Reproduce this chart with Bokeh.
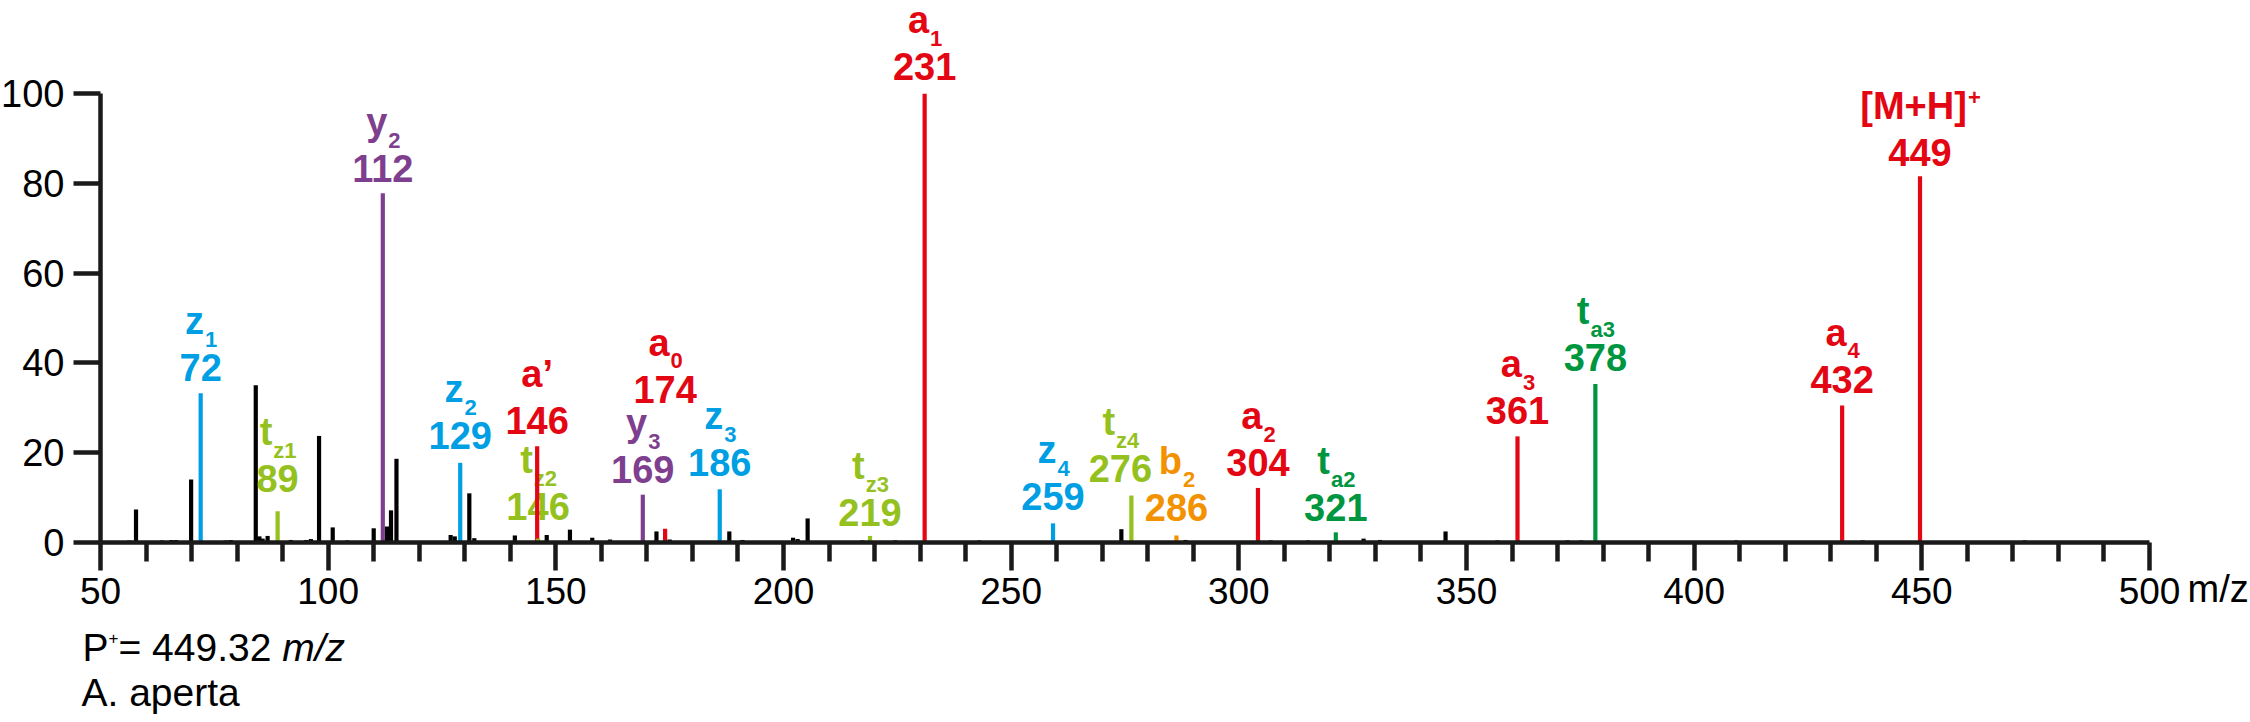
from bokeh.plotting import figure
from bokeh.models import ColumnDataSource, Range1d, FixedTicker, Label
from bokeh.core.properties import value
from bokeh.embed import file_html
from bokeh.resources import INLINE

# ---------------- data ----------------
# unassigned (black) peaks
other_mz = [56.3, 57.8, 63.5, 65.6, 66.6, 69.9, 77.5, 78.6, 84.1, 84.9, 85.6, 86.7,
            91.8, 95.2, 96.2, 98.0, 101.0, 104.2, 110.0, 112.9, 113.8, 115.0, 126.9,
            127.8, 131.0, 132.1, 141.0, 148.0, 153.1, 158.0, 161.9, 172.1, 175.0,
            188.1, 191.0, 202.1, 203.1, 205.3, 217.3, 224.5, 243.0, 274.2, 288.3,
            307.0, 315.2, 327.4, 331.0, 345.4, 356.8, 372.2, 375.2, 409.2, 437.0, 472.6]
other_int = [0.4, 7.3, 0.4, 0.5, 0.5, 14.0, 0.4, 0.5, 35.0, 1.3, 0.8, 1.4,
             0.5, 0.5, 0.7, 23.7, 3.3, 0.4, 3.1, 3.5, 7.1, 18.6, 1.6,
             1.3, 10.9, 0.9, 1.5, 1.6, 2.8, 1.0, 0.6, 2.4, 0.6,
             2.4, 0.5, 1.0, 0.7, 5.3, 0.4, 0.4, 0.4, 2.9, 0.5,
             0.4, 0.4, 0.8, 0.5, 2.4, 0.4, 0.4, 0.4, 0.4, 0.4, 0.4]

# assigned fragment ions
ion_mz = [72.0, 88.9, 112.0, 129.0, 145.9, 146.1, 169.1, 174.0, 186.0, 219.0,
          231.0, 259.2, 276.4, 286.3, 304.2, 321.3, 361.2, 378.3, 432.5, 449.6]
ion_int = [33.2, 6.9, 77.8, 17.7, 21.4, 0.8, 10.6, 3.0, 11.8, 1.4,
           100.0, 4.2, 10.4, 1.5, 12.1, 2.2, 23.6, 35.3, 30.5, 81.6]
ion_series = ["z", "tz", "y", "z", "a", "tz", "y", "a", "z", "tz",
              "a", "z", "tz", "b", "a", "ta", "a", "ta", "a", "a"]
ion_name = ["z", "t", "y", "z", "a\u2019", "t", "y", "a", "z", "t",
            "a", "z", "t", "b", "a", "t", "a", "t", "a", "[M+H]"]
ion_index = ["1", "z1", "2", "2", "", "z2", "3", "0", "3", "z3",
             "1", "4", "z4", "2", "2", "a2", "3", "a3", "4", "+"]
ion_label = ["72", "89", "112", "129", "146", "146", "169", "174", "186", "219",
             "231", "259", "276", "286", "304", "321", "361", "378", "432", "449"]

x_major = [50, 100, 150, 200, 250, 300, 350, 400, 450, 500]
x_minor = [60, 70, 80, 90, 110, 120, 130, 140, 160, 170, 180, 190, 210, 220, 230, 240,
           260, 270, 280, 290, 310, 320, 330, 340, 360, 370, 380, 390, 410, 420, 430,
           440, 460, 470, 480, 490]
y_major = [0, 20, 40, 60, 80, 100]

# ---------------- layout (not data) ----------------
series_color = {"a": "#E30613", "z": "#009FE3", "y": "#7F3F8F", "tz": "#95C11F",
                "ta": "#00963F", "b": "#F39200"}
# baseline of the number label (in intensity units) and horizontal shift (px)
label_base = [35.72, 10.92, 80.08, 20.50, 23.85, 4.75, 12.93, 30.91, 14.55, 3.34,
              102.83, 6.98, 13.22, 4.52, 14.55, 4.52, 26.08, 37.95, 33.14, 83.80]
label_shift = [0, 0, 0, 0, 0, 0, 0, 0, 0, 0, 0, 0, -11, 0, 0, 0, 0, 0, 0, 0]

W, H = 2250, 722
X_ORG, X_END_PX = 100.0, 2149.0     # page px of m/z 50 and 500
Y_ORG, Y_TOP_PX = 541.7, 93.3       # page px of intensity 0 and 100
SX = (X_END_PX - X_ORG) / 450.0
SY = (Y_ORG - Y_TOP_PX) / 100.0
UP = 0.38                            # baseline correction, in em


def xd(page_px):
    return 50 + (page_px - X_ORG) / SX


def yd(page_px):
    return (Y_ORG - page_px) / SY


def up(fs):
    return UP * fs / SY


CW = {"a": .556, "b": .611, "t": .333, "y": .556, "z": .5, "\u2019": .278, "[": .333,
      "]": .333, "M": .833, "+": .584, "H": .722}


def tw(s, size):
    return sum(CW.get(c, .556) for c in s) * size


NUM_FS, LET_FS, SUB_FS = 38, 38, 22
FONT = "Liberation Sans"
AX = "#1a1a1a"
LW = 4.2

p = figure(width=W, height=H, output_backend="svg", toolbar_location=None,
           x_range=Range1d(xd(0), xd(W)), y_range=Range1d(yd(H), yd(0)),
           min_border_left=0, min_border_right=0, min_border_top=0,
           min_border_bottom=0)
p.outline_line_color = None
p.xgrid.visible = False
p.ygrid.visible = False
p.background_fill_color = "white"
p.border_fill_color = "white"

xa = p.xaxis[0]
xa.fixed_location = 0
xa.ticker = FixedTicker(ticks=x_major, minor_ticks=x_minor)
xa.bounds = (50, 500)
xa.axis_line_width = 4.5
xa.axis_line_color = AX
xa.major_tick_line_width = 4.5
xa.major_tick_line_color = AX
xa.minor_tick_line_width = 4.5
xa.minor_tick_line_color = AX
xa.major_tick_out = 28
xa.major_tick_in = 0
xa.minor_tick_out = 19
xa.minor_tick_in = 0
xa.major_label_text_font = FONT
xa.major_label_text_font_size = "37px"
xa.major_label_text_color = "black"
xa.major_label_standoff = 8

ya = p.yaxis[0]
ya.fixed_location = 50
ya.ticker = FixedTicker(ticks=y_major)
ya.bounds = (0, 100)
ya.axis_line_width = 4.5
ya.axis_line_color = AX
ya.major_tick_line_width = 4.5
ya.major_tick_line_color = AX
ya.minor_tick_line_color = None
ya.major_tick_out = 27
ya.major_tick_in = 0
ya.major_label_text_font = FONT
ya.major_label_text_font_size = "38px"
ya.major_label_text_color = "black"
ya.major_label_standoff = 9

# unassigned peaks
p.segment(x0=other_mz, y0=0, x1=other_mz, y1=other_int, line_width=LW,
          line_color="black", line_cap="butt")

# labels
colors = [series_color[s] for s in ion_series]
lx, ldx, sdx, ny, ly, sy_ = [], [], [], [], [], []
for i in range(len(ion_mz)):
    wl = tw(ion_name[i], LET_FS)
    ws = tw(ion_index[i], SUB_FS)
    wg = wl + ws
    lx.append(ion_mz[i])
    ldx.append(label_shift[i] - wg / 2)
    sdx.append(label_shift[i] - wg / 2 + wl + 1)
    ny.append(label_base[i] + up(NUM_FS))
    let_y = label_base[i] + 46.5 / SY
    ly.append(let_y + up(LET_FS))
    if ion_index[i] == "+":
        sy_.append(let_y + 14 / SY + up(SUB_FS))
    else:
        sy_.append(let_y - 12 / SY + up(SUB_FS))

src = ColumnDataSource(dict(x=lx, ny=ny, ly=ly, sy=sy_, num=ion_label, name=ion_name,
                            idx=ion_index, color=colors, ndx=label_shift, ldx=ldx, sdx=sdx))
p.text(x="x", y="ny", text="num", x_offset="ndx", source=src, text_align="center",
       text_baseline="alphabetic", text_font=value(FONT), text_font_style="bold",
       text_font_size=f"{NUM_FS}px", text_color="color")
p.text(x="x", y="ly", text="name", x_offset="ldx", source=src, text_align="left",
       text_baseline="alphabetic", text_font=value(FONT), text_font_style="bold",
       text_font_size=f"{LET_FS}px", text_color="color")
p.text(x="x", y="sy", text="idx", x_offset="sdx", source=src, text_align="left",
       text_baseline="alphabetic", text_font=value(FONT), text_font_style="bold",
       text_font_size=f"{SUB_FS}px", text_color="color")

# assigned peaks (drawn on top)
p.segment(x0=ion_mz, y0=0, x1=ion_mz, y1=ion_int, line_width=LW,
          line_color=colors, line_cap="butt")


def note(text, page_x, page_base, fs, dx=0, style="normal"):
    p.add_layout(Label(x=xd(page_x), x_offset=dx, y=yd(page_base) + up(fs), text=text,
                       text_font=FONT, text_font_size=f"{fs}px", text_font_style=style,
                       text_color="black", text_align="left",
                       text_baseline="alphabetic"))


# axis unit after the last tick label
note("m/z", 2187, 603.3, 38)

# precursor / species note
note("P", 82, 661.7, 39)
note("+", 82, 644.0, 17, dx=26)
note("= 449.32", 82, 661.7, 39, dx=36)
note("m/z", 82, 661.7, 39, dx=36 + 4.198 * 39, style="italic")
note("A. aperta", 81, 707.3, 39)

open("out.html", "w").write(file_html(p, INLINE))
